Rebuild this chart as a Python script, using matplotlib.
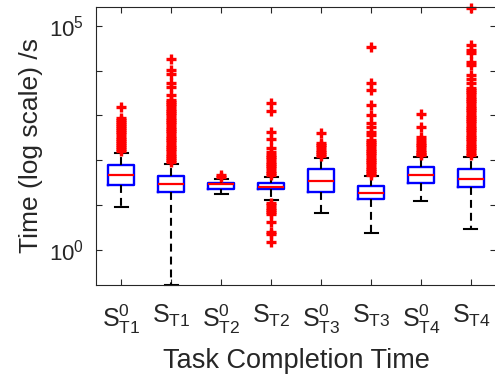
import numpy as np
import matplotlib
matplotlib.use('Agg')
import matplotlib.pyplot as plt

plt.rcParams['font.family'] = ['Liberation Sans', 'DejaVu Sans']
plt.rcParams['mathtext.fontset'] = 'custom'
plt.rcParams['mathtext.rm'] = 'Liberation Sans'
plt.rcParams['mathtext.it'] = 'Liberation Sans'

# tick labels of the eight task groups
labels = [r'$\mathregular{S^0_{T1}}$', r'$\mathregular{S_{T1}}$',
          r'$\mathregular{S^0_{T2}}$', r'$\mathregular{S_{T2}}$',
          r'$\mathregular{S^0_{T3}}$', r'$\mathregular{S_{T3}}$',
          r'$\mathregular{S^0_{T4}}$', r'$\mathregular{S_{T4}}$']

# box statistics, log10 of seconds
q1_log = [1.45, 1.29, 1.36, 1.35, 1.29, 1.14, 1.50, 1.41]
med_log = [1.67, 1.46, 1.47, 1.40, 1.54, 1.28, 1.67, 1.58]
q3_log = [1.90, 1.65, 1.50, 1.50, 1.81, 1.43, 1.85, 1.81]
whislo_log = [0.96, -0.78, 1.25, 1.12, 0.83, 0.38, 1.10, 0.46]
whishi_log = [2.17, 1.92, 1.58, 1.63, 2.06, 1.65, 2.08, 2.08]

# outliers, log10 of seconds
out1 = [3.19, 2.95, 2.90, 2.86, 2.81, 2.76, 2.72, 2.67, 2.62, 2.58, 2.53, 2.48,
        2.44, 2.39, 2.34, 2.30, 2.25, 2.21]
out2 = [4.26, 4.02, 3.93, 3.73, 3.64, 3.46, 3.35, 3.30, 3.25, 3.20, 3.15, 3.10,
        3.05, 3.00, 2.95, 2.90, 2.85, 2.80, 2.75, 2.70, 2.65, 2.60, 2.55, 2.50,
        2.45, 2.40, 2.35, 2.30, 2.25, 2.20, 2.15, 2.10, 2.05, 2.00, 1.96]
out3 = [1.68, 1.63]
out4 = [3.28, 3.10, 2.63, 2.48, 2.28, 2.19, 2.12, 2.07, 2.02, 1.97, 1.92, 1.87,
        1.82, 1.77, 1.72, 1.67,
        1.05, 1.00, 0.94, 0.90, 0.85, 0.80, 0.63, 0.40, 0.36, 0.18]
out5 = [2.61, 2.39, 2.34, 2.29, 2.24, 2.19, 2.14, 2.10]
out6 = [4.53, 3.73, 3.57, 3.24, 3.01, 2.83, 2.75, 2.63, 2.57, 2.46, 2.41, 2.36,
        2.31, 2.26, 2.21, 2.16, 2.11, 2.06, 2.01, 1.96, 1.91, 1.86, 1.81, 1.76,
        1.71, 1.68]
out7 = [3.04, 2.75, 2.52, 2.46, 2.39, 2.34, 2.29, 2.24, 2.19, 2.14, 2.11]
out8 = [5.40, 4.58, 4.46, 4.40, 4.20, 4.13, 3.91, 3.82, 3.73, 3.62, 3.57, 3.52,
        3.47, 3.42, 3.37, 3.32, 3.27, 3.22, 3.17, 3.12, 3.07, 3.02, 2.97, 2.92,
        2.87, 2.82, 2.77, 2.72, 2.67, 2.62, 2.57, 2.52, 2.47, 2.42, 2.37, 2.32,
        2.27, 2.22, 2.17, 2.12]
outliers_log = [out1, out2, out3, out4, out5, out6, out7, out8]

stats = []
for i in range(len(labels)):
    stats.append({'q1': 10 ** q1_log[i], 'med': 10 ** med_log[i],
                  'q3': 10 ** q3_log[i], 'whislo': 10 ** whislo_log[i],
                  'whishi': 10 ** whishi_log[i],
                  'fliers': 10 ** np.array(outliers_log[i])})

grey = '#262626'
fig = plt.figure(figsize=(4.95, 3.83), dpi=100)
ax = fig.add_axes([0.194, 0.256, 0.808, 0.726])

ax.bxp(stats, positions=range(1, 9), widths=0.52, capwidths=0.26,
       boxprops=dict(color='blue', linewidth=1.7),
       medianprops=dict(color='red', linewidth=1.6),
       whiskerprops=dict(color='black', linewidth=1.5, linestyle=(0, (3.8, 2.4))),
       capprops=dict(color='black', linewidth=1.5),
       flierprops=dict(marker='+', markeredgecolor='red', markersize=6.5,
                       markeredgewidth=2.4, linestyle='none'))

ax.set_yscale('log')
ax.set_xlim(0.5, 8.5)
ax.set_ylim(10 ** -0.78, 10 ** 5.42)
ax.set_xticks(range(1, 9))
ax.set_xticklabels(labels)
ax.set_yticks([10 ** k for k in range(6)])
ax.set_yticklabels([r'$\mathregular{10^0}$', '', '', '', '', r'$\mathregular{10^5}$'])
ax.yaxis.set_minor_locator(matplotlib.ticker.NullLocator())

ax.tick_params(direction='in', length=4, width=0.8, colors=grey,
               top=True, right=True)
ax.tick_params(axis='x', labelsize=18, pad=13)
ax.tick_params(axis='y', labelsize=16, pad=9)
for s in ax.spines.values():
    s.set_color(grey)
    s.set_linewidth(0.8)
for line in ax.get_lines():
    line.set_clip_on(False)

ax.set_ylabel('Time (log scale) /s', fontsize=19, color=grey, labelpad=4)
ax.set_xlabel('Task Completion Time', fontsize=19.5, color=grey, labelpad=8)

fig.savefig('out.png', dpi=100)
